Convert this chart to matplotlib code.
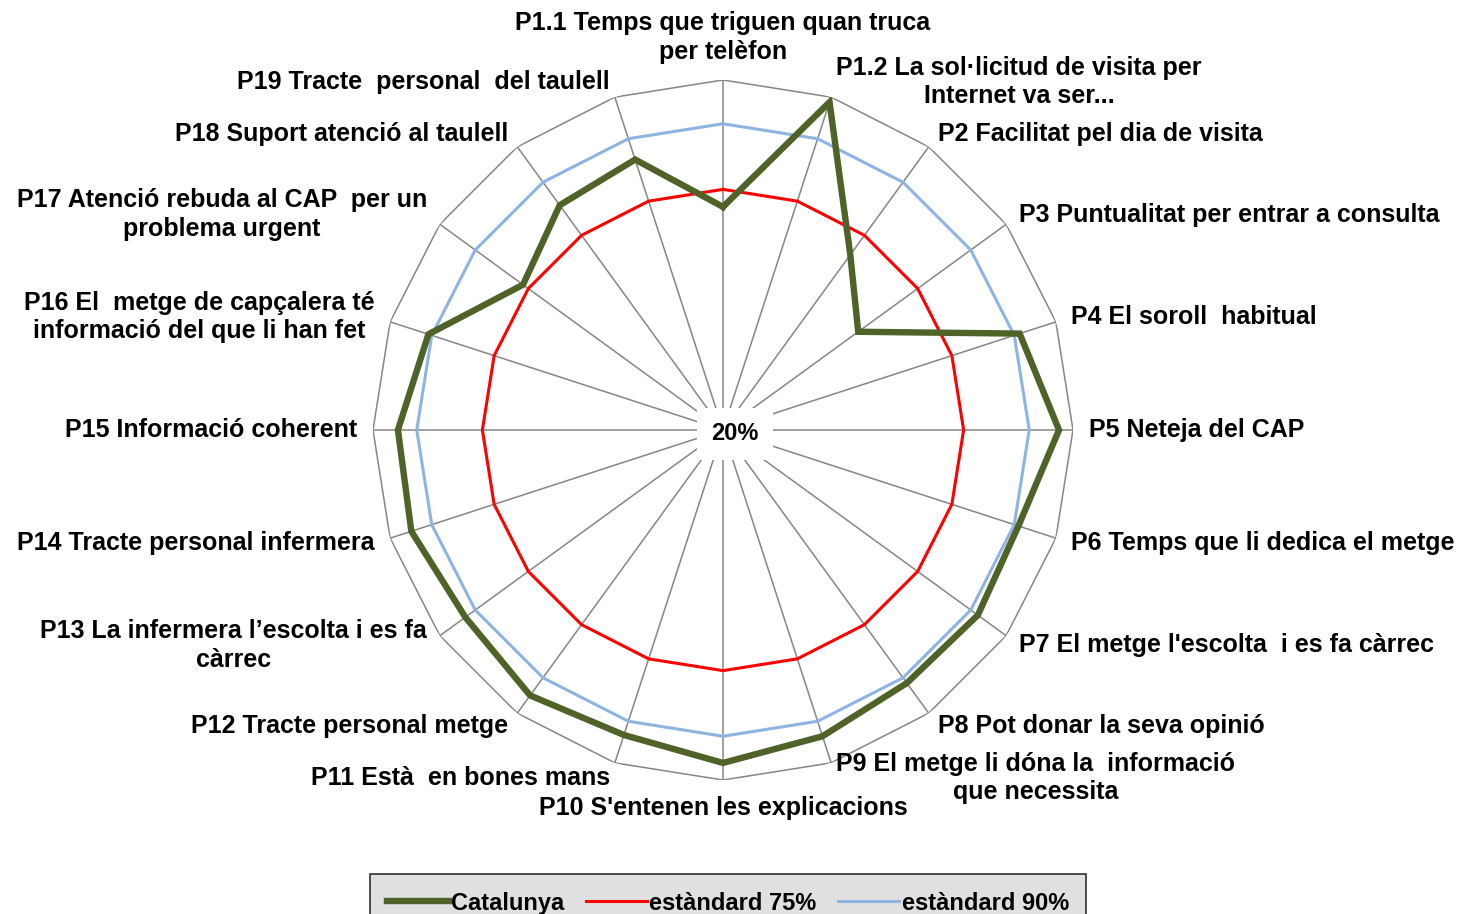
import numpy as np
import matplotlib
matplotlib.use("Agg")
import matplotlib.pyplot as plt

plt.rcParams['font.family'] = ['Liberation Sans', 'DejaVu Sans']

# categories (clockwise from the top)
categories = [
    "P1.1 Temps que triguen quan truca\nper telèfon",
    "P1.2 La sol·licitud de visita per\nInternet va ser...",
    "P2 Facilitat pel dia de visita",
    "P3 Puntualitat per entrar a consulta",
    "P4 El soroll  habitual",
    "P5 Neteja del CAP",
    "P6 Temps que li dedica el metge",
    "P7 El metge l'escolta  i es fa càrrec",
    "P8 Pot donar la seva opinió",
    "P9 El metge li dóna la  informació\nque necessita",
    "P10 S'entenen les explicacions",
    "P11 Està  en bones mans",
    "P12 Tracte personal metge",
    "P13 La infermera l\u2019escolta i es fa\ncàrrec",
    "P14 Tracte personal infermera",
    "P15 Informació coherent",
    "P16 El  metge de capçalera té\ninformació del que li han fet",
    "P17 Atenció rebuda al CAP  per un\nproblema urgent",
    "P18 Suport atenció al taulell",
    "P19 Tracte  personal  del taulell",
]

catalunya = [71.0, 98.8, 69.5, 58.2, 91.3, 96.8, 91.0, 92.0, 91.5, 93.6,
             96.1, 93.3, 95.0, 92.8, 94.9, 94.3, 90.8, 76.5, 83.5, 85.0]
estandard75 = [75] * 20
estandard90 = [90] * 20

rmin, rmax = 20, 100

n = len(categories)
theta = np.arange(n) * 2 * np.pi / n
theta_c = np.append(theta, theta[0])

def closed(v):
    return list(v) + [v[0]]

W, H = 1464, 914
fig = plt.figure(figsize=(W / 100, H / 100), dpi=100)
cx, cy, R = 723, 430, 350
ax = fig.add_axes([(cx - R) / W, (H - cy - R) / H, 2 * R / W, 2 * R / H], projection='polar')
ax.set_theta_offset(np.pi / 2)
ax.set_theta_direction(-1)
ax.set_ylim(rmin, rmax)
ax.grid(False)
ax.spines['polar'].set_visible(False)
ax.set_xticks([])
ax.set_yticks([])
ax.patch.set_alpha(0)

grid_color = '#868686'
# outer polygon and spokes
ax.plot(theta_c, [rmax] * (n + 1), color=grid_color, lw=1.1, zorder=1)
for t in theta:
    ax.plot([t, t], [rmin, rmax], color=grid_color, lw=1.1, zorder=1)

l1, = ax.plot(theta_c, closed(catalunya), color='#4F6228', lw=4.6, zorder=4,
              solid_joinstyle='miter', label='Catalunya')
l2, = ax.plot(theta_c, closed(estandard75), color='#FF0000', lw=2.2, zorder=3,
              label='estàndard 75%')
l3, = ax.plot(theta_c, closed(estandard90), color='#8DB4E2', lw=2.2, zorder=3,
              label='estàndard 90%')

# labels
off = 16
for i, (t, lab) in enumerate(zip(theta, categories)):
    s, c = np.sin(t), np.cos(t)
    if s > 0.1:
        ha = 'left'
    elif s < -0.1:
        ha = 'right'
    else:
        ha = 'center'
    va = 'center'
    if i == 0:
        va = 'bottom'
    elif i == n // 2:
        va = 'top'
    ax.annotate(lab, xy=(t, rmax), xytext=(off * s, off * c),
                textcoords='offset pixels', ha=ha, va=va,
                multialignment='center', fontsize=18, fontweight='bold',
                linespacing=1.25, annotation_clip=False)

ax.annotate("20%", xy=(0, rmin), xytext=(12, -4), textcoords='offset pixels',
            ha='center', va='center', fontsize=17, fontweight='bold', zorder=6,
            bbox=dict(boxstyle='square,pad=0.6', fc='white', ec='none'))

leg = fig.legend(handles=[l1, l2, l3], loc='upper center',
                 bbox_to_anchor=(728 / W, 1 - 862 / H), ncol=3,
                 prop={'weight': 'bold', 'size': 17}, frameon=True,
                 fancybox=False, edgecolor='black', facecolor='#D9D9D9',
                 handlelength=2.6, handletextpad=0.1, columnspacing=0.9,
                 borderpad=0.75)
leg.get_frame().set_linewidth(1.2)

fig.savefig('out.png', dpi=100)
